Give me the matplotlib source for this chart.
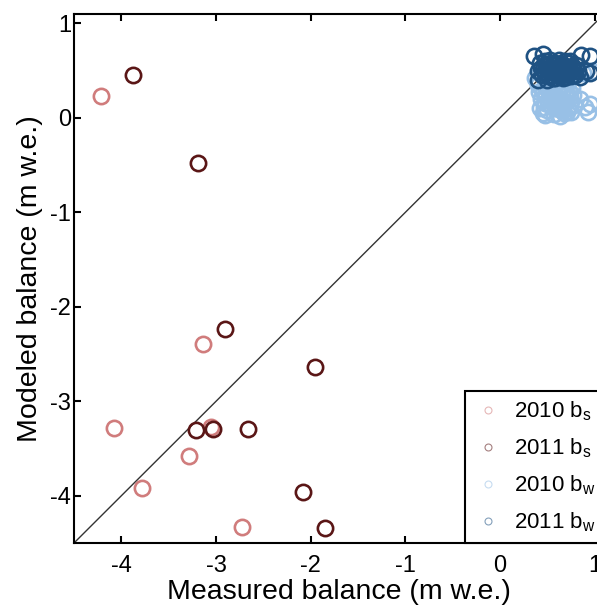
import matplotlib.pyplot as plt
from matplotlib.lines import Line2D

plt.rcParams['font.family'] = ['Liberation Sans', 'DejaVu Sans']
plt.rcParams['mathtext.fontset'] = 'custom'
plt.rcParams['mathtext.rm'] = 'Liberation Sans'
plt.rcParams['axes.unicode_minus'] = False

# ---- data ----
bs2010_x = [-4.22, -3.14, -4.08, -3.29, -3.78, -2.73, -3.05]
bs2010_y = [0.23, -2.39, -3.28, -3.58, -3.92, -4.33, -3.27]

bs2011_x = [-3.88, -3.19, -2.91, -1.95, -3.21, -3.03, -2.66, -2.08, -1.85]
bs2011_y = [0.455, -0.48, -2.24, -2.64, -3.30, -3.29, -3.29, -3.96, -4.34]

bw2010_x = [0.42, 0.45, 0.47, 0.50, 0.52, 0.55, 0.57, 0.58, 0.60, 0.62,
            0.64, 0.66, 0.68, 0.70, 0.72, 0.74, 0.45, 0.48, 0.53, 0.56,
            0.63, 0.67, 0.71, 0.40, 0.43, 0.76, 0.78, 0.60, 0.50, 0.75,
            0.88, 0.97, 0.90, 0.93, 0.85, 0.95, 0.37,
            0.44, 0.49, 0.54, 0.59, 0.65, 0.69, 0.73, 0.77, 0.46, 0.51,
            0.61, 0.66, 0.71, 0.55, 0.58, 0.63, 0.68, 0.48, 0.41, 0.52,
            0.57, 0.74, 0.64, 0.70]
bw2010_y = [0.10, 0.05, 0.16, 0.08, 0.22, 0.12, 0.04, 0.18, 0.28, 0.09,
            0.20, 0.13, 0.05, 0.17, 0.10, 0.22, 0.27, 0.33, 0.38, 0.30,
            0.35, 0.30, 0.38, 0.35, 0.20, 0.32, 0.14, 0.40, 0.42, 0.06,
            0.48, 0.50, 0.12, 0.06, 0.20, 0.15, 0.42,
            0.30, 0.24, 0.29, 0.23, 0.26, 0.24, 0.28, 0.24, 0.12, 0.15,
            0.15, 0.08, 0.06, 0.35, 0.10, 0.02, 0.36, 0.03, 0.27, 0.32,
            0.25, 0.14, 0.33, 0.27]

bw2011_x = [0.45, 0.48, 0.50, 0.52, 0.55, 0.57, 0.58, 0.60, 0.62, 0.63,
            0.65, 0.66, 0.68, 0.70, 0.72, 0.73, 0.75, 0.76, 0.78, 0.42,
            0.44, 0.47, 0.53, 0.40, 0.56, 0.62, 0.69, 0.74, 0.80, 0.79,
            0.82, 0.36, 0.45, 0.86, 0.95, 0.91, 0.95, 0.40, 0.85, 0.50,
            0.46, 0.51, 0.54, 0.59, 0.64, 0.67, 0.71, 0.49, 0.58, 0.61,
            0.70, 0.77, 0.43, 0.53, 0.66, 0.74, 0.56, 0.60, 0.68, 0.64]
bw2011_y = [0.52, 0.47, 0.55, 0.50, 0.45, 0.53, 0.58, 0.48, 0.54, 0.44,
            0.57, 0.50, 0.46, 0.53, 0.58, 0.49, 0.44, 0.55, 0.50, 0.58,
            0.45, 0.60, 0.61, 0.50, 0.42, 0.61, 0.60, 0.60, 0.56, 0.45,
            0.50, 0.66, 0.68, 0.67, 0.66, 0.50, 0.47, 0.40, 0.43, 0.40,
            0.49, 0.44, 0.52, 0.51, 0.47, 0.54, 0.48, 0.57, 0.42, 0.57,
            0.43, 0.52, 0.53, 0.57, 0.42, 0.52, 0.49, 0.45, 0.51, 0.50]

labels = ['2010 b$_\\mathregular{s}$', '2011 b$_\\mathregular{s}$',
          '2010 b$_\\mathregular{w}$', '2011 b$_\\mathregular{w}$']
colors = ['#d07c7c', '#5a1616', '#98c0e6', '#1f5283']

fig = plt.figure(figsize=(5.97, 6.06), dpi=100)
ax = fig.add_axes([0.124, 0.104, 0.888, 0.873])

# 1:1 line
ax.plot([-4.5, 1.1], [-4.5, 1.1], color='#333333', lw=1.0, zorder=1)

series = [(bs2010_x, bs2010_y), (bs2011_x, bs2011_y),
          (bw2010_x, bw2010_y), (bw2011_x, bw2011_y)]
for (xs, ys), c in zip(series, colors):
    ax.plot(xs, ys, 'o', ms=11, mfc='none', mec=c, mew=1.9, zorder=2)

ax.set_xlim(-4.5, 1.1)
ax.set_ylim(-4.5, 1.1)
ax.set_xticks([-4, -3, -2, -1, 0, 1])
ax.set_yticks([-4, -3, -2, -1, 0, 1])
ax.tick_params(direction='in', length=5, width=1.5, labelsize=17,
               top=True, right=True, pad=2)
ax.tick_params(axis='x', pad=9)
for sp in ax.spines.values():
    sp.set_linewidth(1.5)

ax.set_xlabel('Measured balance (m w.e.)', fontsize=20.5, labelpad=1)
ax.set_ylabel('Modeled balance (m w.e.)', fontsize=20.5, labelpad=5)

handles = [Line2D([], [], ls='none', marker='o', ms=5, mfc='none', mec=c,
                  mew=0.8, alpha=0.55) for c in colors]
leg = ax.legend(handles, labels, loc='lower right', fontsize=16,
                frameon=True, fancybox=False, framealpha=1,
                edgecolor='black', borderaxespad=0, handlelength=1.3,
                handletextpad=0.5, labelspacing=0.6, borderpad=0.4)
leg.get_frame().set_linewidth(1.5)

fig.savefig('out.png', dpi=100)
